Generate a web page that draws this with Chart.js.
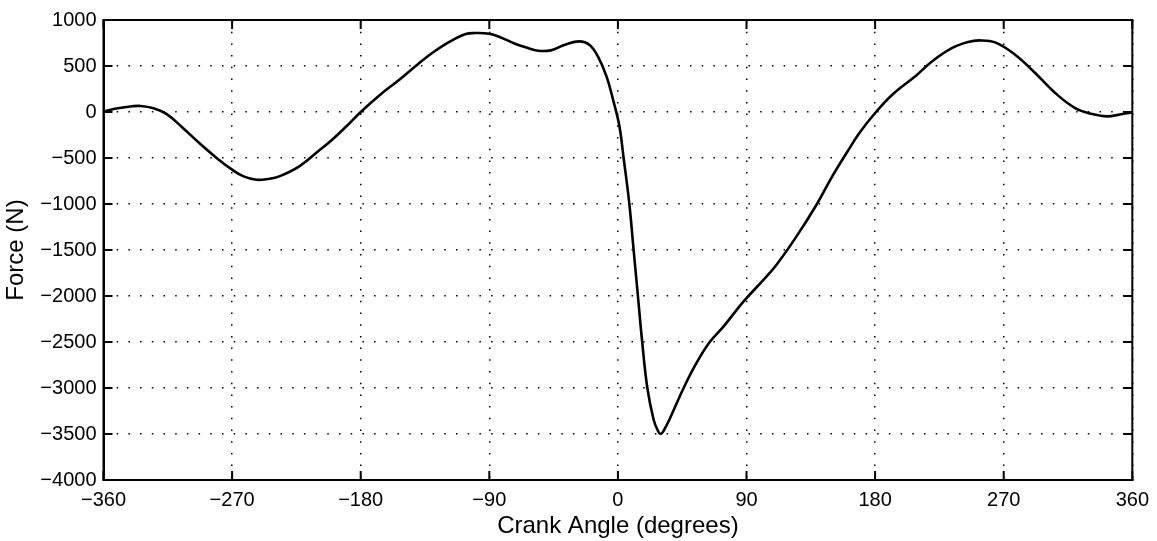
<!DOCTYPE html>
<html>
<head>
<meta charset="utf-8">
<script src="https://cdn.jsdelivr.net/npm/chart.js@4"></script>
<style>
  html, body { margin: 0; padding: 0; background: #fff; }
  #wrap { width: 1157px; height: 541px; }
</style>
</head>
<body>
<div id="wrap"><canvas id="forceChart" width="1157" height="541"></canvas></div>
<script>
// crank angle (deg) and force (N)
let angles = [-360, -350, -340, -334, -325, -316, -305, -293, -280, -270, -262, -253, -245, -237,
  -223, -210, -200, -190, -180, -167, -153, -140, -130, -118, -107, -100, -90, -82, -72, -64,
  -56, -47, -37, -27, -20, -14, -8, -3, 1, 4, 8, 11, 14, 17, 20.6, 25, 28, 30, 32, 36, 46, 55, 64, 74,
  88, 102, 111, 125, 139, 150, 160, 169, 180, 192, 209, 220, 234, 245, 253, 264, 278, 292,
  306, 320, 332, 342, 353, 360];
let force = [5, 40, 62, 66, 42, -20, -165, -337, -510, -627, -700, -736, -728, -700,
  -591, -430, -301, -155, 0, 180, 351, 520, 641, 762, 845, 858, 850, 810, 742, 700,
  666, 670, 731, 768, 731, 604, 387, 110, -150, -500, -1000, -1500, -2000, -2500, -3000, -3345, -3465, -3500, -3465, -3345, -3000, -2728, -2505, -2330,
  -2058, -1823, -1660, -1352, -1008, -700, -446, -228, -11, 188, 400, 552, 696, 760, 778, 757, 623, 424,
  207, 43, -22, -48, -22, -4];

let xTicks = [-360, -270, -180, -90, 0, 90, 180, 270, 360];
let yTicks = [1000, 500, 0, -500, -1000, -1500, -2000, -2500, -3000, -3500, -4000];

const fontFamily = '"Liberation Sans", Arial, Helvetica, sans-serif';
const minusSign = v => String(v).replace('-', '\u2212');

// box round the plot plus small inward tick marks on all four sides
const frame = {
  id: 'frame',
  afterDraw(chart) {
    const ctx = chart.ctx;
    const a = chart.chartArea;
    const len = 9;
    ctx.save();
    ctx.strokeStyle = '#000';
    ctx.lineWidth = 2;
    ctx.beginPath();
    xTicks.forEach(v => {
      const x = chart.scales.x.getPixelForValue(v);
      ctx.moveTo(x, a.bottom); ctx.lineTo(x, a.bottom - len);
      ctx.moveTo(x, a.top); ctx.lineTo(x, a.top + len);
    });
    yTicks.forEach(v => {
      const y = chart.scales.y.getPixelForValue(v);
      ctx.moveTo(a.left, y); ctx.lineTo(a.left + len, y);
      ctx.moveTo(a.right, y); ctx.lineTo(a.right - len, y);
    });
    ctx.stroke();
    ctx.strokeRect(a.left, a.top, a.right - a.left, a.bottom - a.top);
    ctx.restore();
  }
};

new Chart("forceChart", {
  type: 'line',
  data: {
    datasets: [{
      data: angles.map((a, i) => ({ x: a, y: force[i] })),
      borderColor: '#000',
      borderWidth: 2.6,
      pointRadius: 0,
      fill: false,
      tension: 0.4
    }]
  },
  plugins: [frame],
  options: {
    responsive: false,
    animation: false,
    layout: { padding: { top: 20, right: 20, left: 0, bottom: 0 } },
    plugins: { legend: { display: false }, tooltip: { enabled: false } },
    scales: {
      x: {
        type: 'linear',
        min: -360,
        max: 360,
        afterBuildTicks: s => { s.ticks = xTicks.map(v => ({ value: v })); },
        afterFit: s => { s.height = 61; },
        grid: { color: '#000', lineWidth: 1.5, drawTicks: false },
        border: { display: true, color: '#000', width: 2, dash: [1.5, 10.2] },
        ticks: {
          color: '#000',
          padding: 8,
          maxRotation: 0,
          font: { family: fontFamily, size: 20 },
          callback: minusSign
        },
        title: {
          display: true,
          text: 'Crank Angle (degrees)',
          color: '#000',
          padding: { top: 0, bottom: 0 },
          font: { family: fontFamily, size: 24 }
        }
      },
      y: {
        min: -4000,
        max: 1000,
        afterBuildTicks: s => { s.ticks = yTicks.map(v => ({ value: v })); },
        afterFit: s => { s.width = 103.5; },
        grid: { color: '#000', lineWidth: 1.5, drawTicks: false },
        border: { display: true, color: '#000', width: 2, dash: [1.5, 10.2] },
        ticks: {
          color: '#000',
          padding: 7,
          font: { family: fontFamily, size: 20 },
          callback: minusSign
        },
        title: {
          display: true,
          text: 'Force (N)',
          color: '#000',
          padding: { top: 2, bottom: 4 },
          font: { family: fontFamily, size: 24 }
        }
      }
    }
  }
});
</script>
</body>
</html>
